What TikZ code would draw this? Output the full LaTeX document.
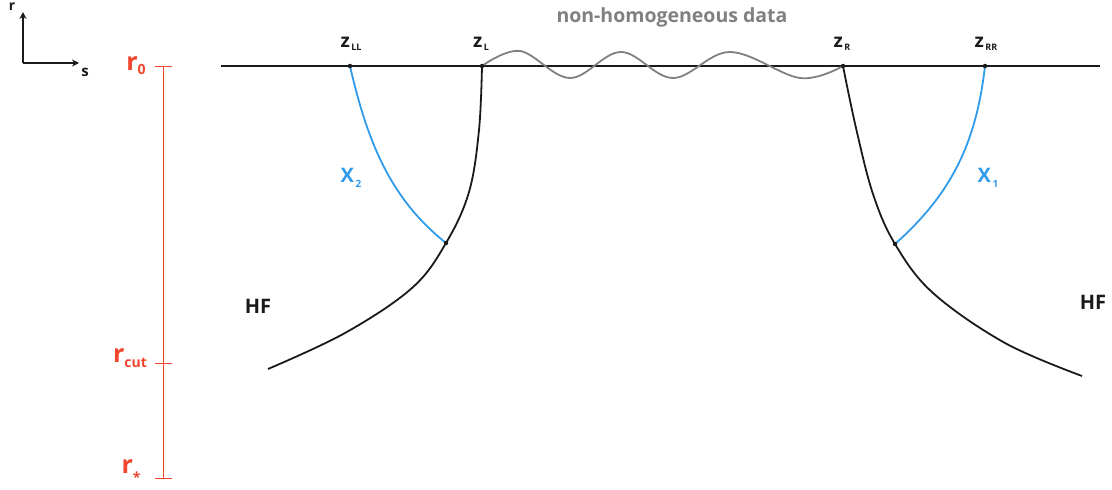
\documentclass[tikz,border=0pt]{standalone}
\usepackage{fontspec}
\setmainfont{Open Sans}
\usetikzlibrary{arrows.meta}
\definecolor{redax}{HTML}{F0462D}
\definecolor{bluex}{HTML}{2F9BEA}
\definecolor{grayw}{HTML}{808080}
\definecolor{ink}{HTML}{1A1A1A}
\tikzset{
  lbl/.style={font=\bfseries\fontsize{19}{21}\selectfont, text=ink, inner sep=0pt},
  redlbl/.style={font=\bfseries\fontsize{25}{27}\selectfont, text=redax, inner sep=0pt},
  bluelbl/.style={font=\bfseries\fontsize{20}{22}\selectfont, text=bluex, inner sep=0pt},
  dotp/.style={circle, fill=ink, inner sep=0pt, minimum size=4.5pt},
  blackc/.style={ink, line width=1.8pt},
  bluec/.style={bluex, line width=1.8pt},
}
\begin{document}
\begin{tikzpicture}[x=1pt,y=-1pt]
\useasboundingbox (0,0) rectangle (1112,490);
% axes
\coordinate (o) at (23,63);
\coordinate (ry) at (23,12);
\coordinate (sx) at (79,63);
\draw[ink, line width=1.2pt, -{Stealth[length=7pt,width=7pt]}] (o) -- (ry);
\draw[ink, line width=1.2pt, -{Stealth[length=7pt,width=7pt]}] (o) -- (sx);
\node[lbl, font=\bfseries\fontsize{14}{16}\selectfont, anchor=north] (rlab) at (12,3) {r};
\node[lbl, font=\bfseries\fontsize{15}{17}\selectfont] (slab) at (85,72) {s};
% red scale
\coordinate (t0) at (163,66);
\coordinate (tc) at (163,363);
\coordinate (ts) at (163,478);
\draw[redax, line width=0.9pt] (t0) -- (ts);
\foreach \c in {t0,tc,ts} \draw[redax, line width=0.9pt] ([xshift=-8pt]\c) -- ([xshift=9pt]\c);
\node[redlbl] (r0) at (136,66) {r\raisebox{-0.3ex}{\fontsize{14}{16}\selectfont 0}};
\node[redlbl] (rcut) at (130,358) {r\raisebox{-0.4ex}{\fontsize{14}{16}\selectfont cut}};
\node[redlbl] (rstar) at (131,471) {r\raisebox{-0.7ex}{\fontsize{14}{16}\selectfont *}};
% main line
\coordinate (ml) at (221,66);
\coordinate (mr) at (1100,66);
\draw[blackc] (ml) -- (mr);
\coordinate (zLL) at (350,66);
\coordinate (zL) at (482,66);
\coordinate (zR) at (843,66);
\coordinate (zRR) at (985,66);
\coordinate (jL) at (446,243);
\coordinate (jR) at (895,244);
% wave
\draw[grayw, line width=1.8pt] plot[smooth, tension=0.6] coordinates {(482,66) (520,51) (570,78) (621,52) (673,78) (730,52) (800,78) (843,66)};
% black curves
\draw[blackc] plot[smooth, tension=0.6] coordinates {(482,66) (479,130) (469,192) (446,243) (412,288) (345,333) (268,369)};
\draw[blackc] plot[smooth, tension=0.6] coordinates {(843,66) (856,128) (873,194) (895,244) (933,293) (1005,343) (1082,376)};
% blue curves
\draw[bluec] (zLL) .. controls (368,145) and (392,200) .. (jL);
\draw[bluec] (zRR) .. controls (976,145) and (950,195) .. (jR);
% dots
\foreach \p in {zLL,zL,zR,zRR,jL,jR} \node[dotp] at (\p) {};
% labels
\newcommand{\zsub}[1]{\raisebox{-0.3ex}{\fontsize{9}{10}\selectfont\,#1}}
\node[lbl] (lzLL) at (351,44) {z\zsub{LL}};
\node[lbl] (lzL) at (481,44) {z\zsub{L}};
\node[lbl] (lzR) at (842,44) {z\zsub{R}};
\node[lbl] (lzRR) at (986,44) {z\zsub{RR}};
\node[bluelbl] (x2) at (351,178) {X\raisebox{-0.4ex}{\fontsize{10}{11}\selectfont\,2}};
\node[bluelbl] (x1) at (988,178) {X\raisebox{-0.4ex}{\fontsize{10}{11}\selectfont\,1}};
\node[lbl, font=\bfseries\fontsize{20}{22}\selectfont] (hfL) at (258,306) {HF};
\node[lbl, font=\bfseries\fontsize{20}{22}\selectfont] (hfR) at (1093,302) {HF};
\node[lbl, font=\bfseries\fontsize{19.5}{22}\selectfont, text=grayw] (nhd) at (672,17) {non-homogeneous data};
\end{tikzpicture}
\end{document}
